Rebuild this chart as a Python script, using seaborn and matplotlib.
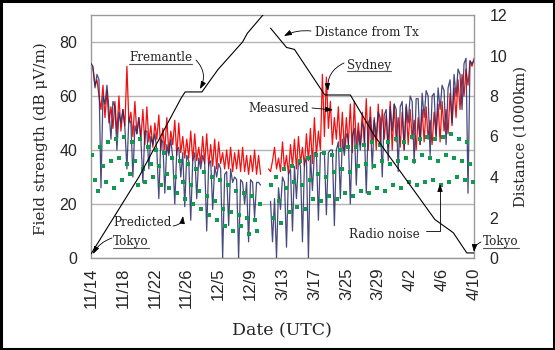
import numpy as np
import pandas as pd
import seaborn as sns
import matplotlib
matplotlib.use("Agg")
import matplotlib.pyplot as plt
from matplotlib.lines import Line2D
from matplotlib.patches import Rectangle

nan = np.nan

# ---------------- data ----------------
tick_labels = ["11/14", "11/18", "11/22", "11/26", "12/5", "12/9", "3/13",
               "3/17", "3/25", "3/29", "4/2", "4/6", "4/10"]
samples_per_day = 4
gap_day = 22.0  # season break (Dec -> Mar)

measured = [
    72, 70, 64, 66, 60, 55, 64, 52, 62, 50, 56, 48, 58, 46, 60, 47, 55, 49, 71, 50,
    54, 45, 58, 46, 52, 44, 55, 42, 56, 43, 49, 41, 50, 44, 53, 40, 48, 40, 52, 39,
    47, 42, 51, 38, 50, 39, 45, 37, 44, 37, 47, 36, 46, 36, 41, 35, 45, 35, 46, 34,
    42, 34, 44, 33, 43, 35, 39, 33, 40, 33, 41, 32, 39, 33, 40, 32, 41, 32, 38, 31,
    38, 32, 40, 31, 38, 31, nan, nan, nan, 33, 32, 36, 41, 33, 37, 32, 43, 33, 38, 31,
    42, 34, 44, 33, 45, 35, 41, 34, 46, 36, 48, 35, 52, 38, 47, 40, 68, 45, 67, 48,
    58, 42, 52, 44, 56, 41, 54, 40, 52, 42, 57, 39, 58, 41, 50, 42, 54, 42, 59, 40,
    56, 43, 52, 40, 57, 42, 55, 44, 53, 41, 58, 40, 57, 43, 52, 41, 54, 40, 56, 42,
    55, 44, 51, 40, 52, 42, 55, 43, 56, 44, 51, 42, 54, 45, 57, 43, 58, 47, 55, 46,
    61, 49, 63, 52, 66, 55, 68, 60, 70, 64, 73, 71, 74]

predicted = [
    72, 71, 63, 68, 66, 26, 60, 57, 64, 55, 44, 58, 56, 40, 54, 50, 55, 48, 33, 52,
    50, 30, 49, 46, 52, 44, 28, 47, 47, 33, 45, 42, 46, 40, 22, 44, 43, 24, 42, 38,
    44, 37, 20, 40, 41, 30, 39, 19, 38, 36, 14, 36, 39, 22, 37, 33, 38, 35, 10, 35,
    36, 18, 34, 30, 35, 33, 0, 31, 32, 12, 33, 28, 30, 29, 0, 29, 28, 20, 28, 6,
    29, 28, 15, 28, 28, 27, nan, nan, nan, nan, 21, 6, 22, 0, 26, 18, 30, 28, 4, 31,
    33, 10, 34, 22, 36, 34, 6, 35, 37, 0, 38, 25, 39, 39, 14, 39, 39, 39, 16, 39,
    40, 40, 12, 40, 43, 22, 44, 38, 46, 44, 20, 45, 48, 27, 47, 40, 50, 48, 24, 50,
    52, 33, 51, 45, 54, 52, 30, 53, 55, 36, 56, 47, 57, 55, 32, 56, 58, 40, 57, 50,
    60, 58, 35, 59, 59, 42, 61, 52, 62, 60, 38, 60, 61, 45, 63, 55, 64, 62, 42, 63,
    66, 50, 68, 60, 70, 68, 55, 72, 74, 24, 73, 72, 73]

noise_per_day = 3
noise = [
    38, 29, 25, 41, 34, 28, 43, 36, 26, 44, 37, 29, 45, 35, 31,
    43, 36, 27, 44, 33, 28, 41, 35, 30, 40, 34, 27, 39, 31, 26,
    37, 30, 24, 36, 28, 22, 35, 27, 20, 33, 25, 18, 32, 23, 16,
    30, 21, 14, 29, 18, 12, 27, 17, 10, 25, 16, 12, 24, 15, 9,
    23, 14, 10, 20, nan, nan, nan, 27, 15, 30, 21, 13, 33, 26, 17,
    34, 28, 19, 36, 27, 18, 37, 29, 22, 38, 31, 21, 39, 30, 23,
    38, 32, 22, 40, 33, 24, 41, 32, 23, 41, 34, 25, 42, 35, 24,
    43, 34, 26, 42, 36, 25, 43, 35, 27, 44, 36, 26, 43, 37, 28,
    45, 36, 27, 44, 38, 28, 45, 37, 29, 44, 36, 27, 45, 38, 28,
    46, 37, 30, 44, 36, 29, 43, 35, 28]

# distance from transmitter (1000 km)
dist_day_out = [0, 6, 11.3, 11.8, 13.9, 15.9, 19.0, 19.6, 21.55, 21.7]
dist_out = [0.2, 4.0, 7.9, 8.2, 8.2, 9.3, 10.67, 11.1, 12.0, 12.2]
dist_day_back = [22.5, 24.5, 25.5, 29.3, 32.5, 35.6, 43.1, 45.4, 47.1, 48]
dist_back = [11.35, 10.4, 10.3, 8.05, 8.05, 6.0, 1.9, 1.25, 0.25, 0.25]

# ---------------- frames ----------------
day = np.arange(len(measured)) / samples_per_day
df = pd.DataFrame({"day": day, "measured": measured, "predicted": predicted})
df["part"] = (df["day"] > gap_day - 0.5).astype(int)

nday = np.repeat(np.arange(len(noise) // noise_per_day), noise_per_day) + \
    np.tile([0.17, 0.5, 0.83], len(noise) // noise_per_day)
dn = pd.DataFrame({"day": nday, "noise": noise}).dropna()

dd = pd.concat([
    pd.DataFrame({"day": dist_day_out, "dist": dist_out, "part": 0}),
    pd.DataFrame({"day": dist_day_back, "dist": dist_back, "part": 1}),
])

# ---------------- figure ----------------
sns.set_style("white")
plt.rcParams["font.family"] = ["DejaVu Serif"]

W, H = 555, 350
fig = plt.figure(figsize=(W / 100, H / 100), dpi=100)
x0, x1, yb, yt = 91, 474, 258, 15
ax = fig.add_axes([x0 / W, 1 - yb / H, (x1 - x0) / W, (yb - yt) / H])

serif = "DejaVu Serif"
sans = "Liberation Sans"

dm = df.dropna(subset=["measured"])
dp = df.dropna(subset=["predicted"])
sns.lineplot(data=dp, x="day", y="predicted", units="part", estimator=None,
             color="#262a66", lw=0.9, alpha=0.85, ax=ax, legend=False, zorder=3)
sns.lineplot(data=dm, x="day", y="measured", units="part", estimator=None,
             color="#f01010", lw=0.9, ax=ax, legend=False, zorder=2)
sns.scatterplot(data=dn, x="day", y="noise", marker="s", s=4.8, color="#12994f",
                linewidth=0, ax=ax, legend=False, zorder=4)

ax.set_xlim(0, 48)
ax.set_ylim(0, 90)
ax.set_yticks([0, 20, 40, 60, 80])
ax.set_xticks(np.arange(0, 49, 4))
ax.set_xticks(np.arange(0, 49, 2), minor=True)
ax.set_xticklabels(tick_labels, rotation=90, fontfamily=sans, fontsize=12)
ax.set_yticklabels(["0", "20", "40", "60", "80"], fontfamily=sans, fontsize=11.5)
ax.tick_params(axis="x", which="both", direction="in", length=4, color="#999999",
               width=0.8, pad=7)
ax.tick_params(axis="y", length=0, pad=10)
ax.grid(axis="y", color="#b5b5b5", lw=1)
ax.set_axisbelow(True)
for s in ax.spines.values():
    s.set_color("#9a9a9a")
    s.set_linewidth(1)

ax.set_xlabel("Date (UTC)", fontfamily=serif, fontsize=12.5)
ax.set_ylabel("Field strength (dB μV/m)", fontfamily=serif, fontsize=11)
ax.xaxis.set_label_coords((282 - x0) / (x1 - x0), (yb - 331) / (yb - yt))
ax.xaxis.label.set_va("center")
ax.yaxis.set_label_coords((41 - x0) / (x1 - x0), 0.49)
ax.yaxis.label.set_va("center")

ax2 = ax.twinx()
sns.lineplot(data=dd, x="day", y="dist", units="part", estimator=None,
             color="black", lw=0.8, ax=ax2, legend=False)
ax2.set_ylim(0, 12)
ax2.set_xlim(0, 48)
ax2.set_yticks(np.arange(0, 13, 2))
ax2.set_yticklabels([str(v) for v in range(0, 13, 2)], fontfamily=sans, fontsize=11.5)
ax2.tick_params(axis="y", length=0, pad=11)
ax2.set_ylabel("Distance (1000km)", fontfamily=serif, fontsize=10.5)
ax2.yaxis.set_label_coords((521 - x0) / (x1 - x0), 0.5)
ax2.yaxis.label.set_va("center")
ax2.yaxis.label.set_rotation(90)
for s in ax2.spines.values():
    s.set_visible(False)


# ---------------- annotations ----------------
def px(xp, yp):
    return ((xp - x0) / ((x1 - x0) / 48), (yb - yp) / ((yb - yt) / 90))


afs = 8.6
texts_ul = []


def label(txt, center, ul=False):
    t = ax.text(*px(*center), txt, fontfamily=serif, fontsize=afs,
                ha="center", va="center", zorder=6, clip_on=False)
    if ul:
        texts_ul.append(t)
    return t


def arrow(tail, head, rad=0.0, style=None):
    cs = style if style else f"arc3,rad={rad}"
    ax.annotate("", xy=px(*head), xytext=px(*tail), annotation_clip=False,
                arrowprops=dict(arrowstyle="-|>,head_length=0.45,head_width=0.16",
                                color="black", lw=0.6, connectionstyle=cs,
                                shrinkA=0, shrinkB=0), zorder=6)


label("Fremantle", (160.5, 58), ul=True)
arrow((196, 60), (200, 89), rad=-0.35)
label("Distance from Tx", (366.5, 32))
arrow((311, 31), (284, 36), rad=0.15)
label("Sydney", (369, 65), ul=True)
arrow((344, 63), (328, 91), rad=0.35)
label("Measured", (279, 108))
arrow((312, 108), (333, 110), rad=0.0)
label("Predicted", (143, 223))
arrow((173, 226), (183, 216), rad=0.4)
label("Tokyo", (131, 242), ul=True)
arrow((112, 238), (93, 254), rad=0.2)
label("Radio noise", (384.5, 235))
arrow((426, 231), (440, 184), style="angle,angleA=0,angleB=90,rad=0")
label("Tokyo", (501, 242), ul=True)
arrow((481, 242), (474, 252), rad=0.3)

fig.canvas.draw()
for t in texts_ul:
    bb = t.get_window_extent()
    yline = bb.y0 + 0.5
    fig.add_artist(Line2D([bb.x0 / W, bb.x1 / W], [yline / H, yline / H],
                          color="#555555", lw=0.8, transform=fig.transFigure))

fig.add_artist(Rectangle((0.002, 0.003), 0.996, 0.994, transform=fig.transFigure,
                         fill=False, ec="black", lw=2.2))

fig.savefig("out.png", dpi=100)
